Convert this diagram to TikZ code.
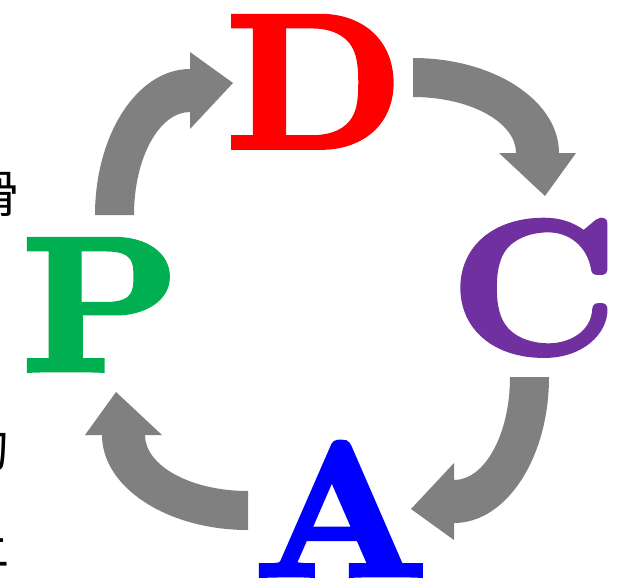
\documentclass[tikz,border=0pt]{standalone}
\usepackage{fontspec}
\newfontfamily\cjkfont{Noto Sans CJK SC}
\newfontfamily\pdcafont{lmroman10-bold.otf}[FakeBold=3, FakeStretch=1.06]
\usepackage{tikz}
\definecolor{plancol}{RGB}{0,176,80}
\definecolor{docol}{RGB}{255,0,0}
\definecolor{checkcol}{RGB}{112,48,160}
\definecolor{actcol}{RGB}{0,0,255}
\tikzset{letter/.style={inner sep=0pt, anchor=base, font=\fontsize{190}{190}\selectfont\pdcafont},
  sidetext/.style={inner sep=0pt, anchor=east, font=\fontsize{50}{50}\selectfont\cjkfont}}
\def\cyclearrow(#1)(#2){\fill[black!50, shift={(#1)}, rotate=#2] (-95,0) arc[start angle=180, end angle=270, x radius=95, y radius=146] -- (0,-163) -- (43,-132) -- (0,-86) -- (0,-103) arc[start angle=270, end angle=180, x radius=56, y radius=103] -- cycle;}

\begin{document}
\begin{tikzpicture}[x=1pt, y=-1pt]
		%%%%% START %%%%%
		\useasboundingbox (0,0) rectangle (620,587);
		
		\node[sidetext] (s1) at (19, 194) {滑};
		\node[sidetext] (s2) at (10, 448) {的};
		\node[sidetext] (s3) at (10, 545) {上};
		
		\node[letter, color=plancol] (P) at (101, 370) {P};
		\node[letter, color=docol] (D) at (315, 147) {D};
		\node[letter, color=checkcol] (C) at (534, 353) {C};
		\node[letter, color=actcol] (A) at (341, 575) {A};
		
		\cyclearrow(190, 215)(0)
		\cyclearrow(413, 153)(-90)
		\cyclearrow(454, 377)(180)
		\cyclearrow(248, 435)(90)
		
		%%%%% END %%%%%
\end{tikzpicture}
\end{document}
